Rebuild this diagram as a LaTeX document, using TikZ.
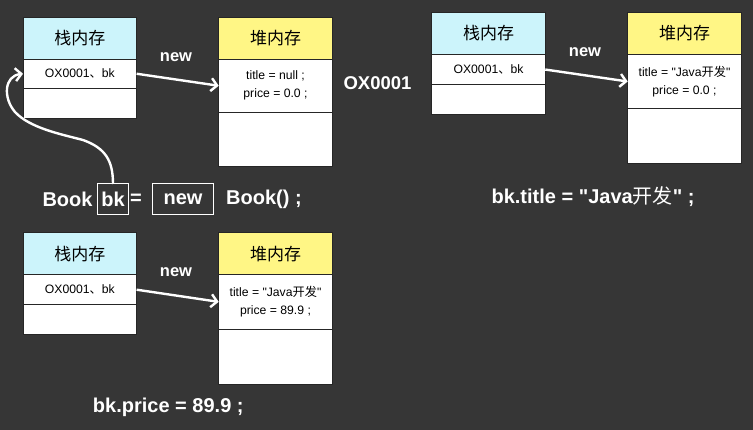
\documentclass[tikz,border=0pt]{standalone}
\usepackage{fontspec}
\setmainfont{Liberation Sans}[Ligatures=TeXOff]
\newfontfamily\cjk{Noto Sans CJK SC}
\usetikzlibrary{positioning,arrows.meta}
\definecolor{bgray}{HTML}{363636}
\definecolor{stackc}{HTML}{CCF4FB}
\definecolor{heapc}{HTML}{FFF685}

\begin{document}
\begin{tikzpicture}[x=1pt,y=-1pt,inner sep=0pt,outer sep=0pt,
                    >={Straight Barb[length=6pt,width=13pt]}]
  \tikzstyle{head}=[draw=black!85,line width=0.8pt,minimum width=113.6pt,
                    minimum height=42pt,anchor=north west,
                    font=\cjk\fontsize{17}{18}\selectfont]
  \tikzstyle{cell}=[draw=black!85,line width=0.8pt,fill=white,minimum width=113.6pt,
                    align=center,font=\fontsize{12.2}{18}\selectfont]
  \tikzstyle{code}=[text=white,font=\bfseries\fontsize{20}{22}\selectfont]
  \tikzstyle{codebox}=[draw=white,line width=1pt,minimum height=31pt]
  \tikzstyle{label}=[text=white,font=\bfseries\fontsize{16.5}{18}\selectfont]
  \tikzstyle{ptr}=[->,white,line width=2.4pt]

  \fill[bgray] (0,0) rectangle (753,430);
  \useasboundingbox (0,0) rectangle (753,430);

  % step 1
  \node[head,fill=stackc] (s1)  at (23,17)    {栈内存};
  \node[cell,minimum height=29.5pt,below=0pt of s1]  (s1a) {OX0001{\cjk 、}bk};
  \node[cell,minimum height=29.5pt,below=0pt of s1a] (s1b) {};
  \node[head,fill=heapc]  (h1)  at (218.7,17) {堆内存};
  \node[cell,minimum height=53.5pt,below=0pt of h1]  (h1a) {title = null ;\\price = 0.0 ;};
  \node[cell,minimum height=54pt,below=0pt of h1a]   (h1b) {};
  \draw[ptr] (s1a.east) -- (h1a.west);
  \node[label] (n1) at (176,57) {new};
  \node[label,font=\bfseries\fontsize{18.5}{20}\selectfont] (addr) at (377.5,83) {OX0001};

  \node[code] (book) at (67.5,199.5) {Book};
  \node[code,codebox,minimum width=30.6pt] (bk)  at (113,199.5) {bk};
  \node[code] (eq)   at (136,199.5) {=};
  \node[code,codebox,minimum width=60.6pt] (new) at (183,199.5) {new};
  \node[code] (ctor) at (264,199.5) {Book() ;};
  \draw[ptr] (bk.north) .. controls (113,160) and (105,148) .. (83,140)
                        .. controls (60,134) and (30,128) .. (15,112)
                        .. controls (3,98) and (4,76) .. (s1a.west);

  % step 2
  \node[head,fill=stackc] (s2)  at (431.7,12.3) {栈内存};
  \node[cell,minimum height=30.5pt,below=0pt of s2]  (s2a) {OX0001{\cjk 、}bk};
  \node[cell,minimum height=30pt,below=0pt of s2a]   (s2b) {};
  \node[head,fill=heapc]  (h2)  at (627.7,12.3) {堆内存};
  \node[cell,minimum height=54.4pt,below=0pt of h2]  (h2a) {title = "Java{\cjk 开发}"\\price = 0.0 ;};
  \node[cell,minimum height=54.6pt,below=0pt of h2a] (h2b) {};
  \draw[ptr] (s2a.east) -- (h2a.west);
  \node[label] (n2) at (585,51.7) {new};
  \node[code] (settitle) at (593,196.7) {bk.title = "Java{\cjk\mdseries 开发}" ;};

  % step 3
  \node[head,fill=stackc] (s3)  at (23,232.7) {栈内存};
  \node[cell,minimum height=30pt,below=0pt of s3]    (s3a) {OX0001{\cjk 、}bk};
  \node[cell,minimum height=30pt,below=0pt of s3a]   (s3b) {};
  \node[head,fill=heapc]  (h3)  at (218.7,232.7) {堆内存};
  \node[cell,minimum height=54.3pt,below=0pt of h3]  (h3a) {title = "Java{\cjk 开发}"\\price = 89.9 ;};
  \node[cell,minimum height=55pt,below=0pt of h3a]   (h3b) {};
  \draw[ptr] (s3a.east) -- (h3a.west);
  \node[label] (n3) at (176,271.7) {new};
  \node[code] (setprice) at (168.3,407.7) {bk.price = 89.9 ;};
\end{tikzpicture}
\end{document}
